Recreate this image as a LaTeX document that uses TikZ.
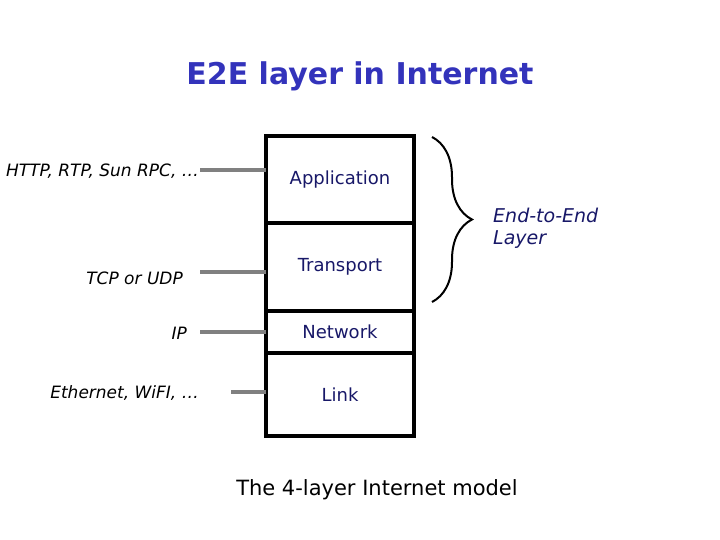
\documentclass[tikz,border=0pt]{standalone}
\usepackage{fontspec}
\usepackage{xcolor}
\usepackage{tikz}
\usetikzlibrary{decorations.pathreplacing}
\setmainfont{DejaVu Sans}
\definecolor{titleblue}{RGB}{51,51,187}
\definecolor{layernavy}{RGB}{24,24,104}
\definecolor{feedgray}{RGB}{128,128,128}
\tikzset{
	layer/.style={draw, line width=3.5pt, minimum width=148pt, inner sep=0pt, outer sep=0pt, anchor=north west, text=layernavy, font=\fontsize{18}{21}\selectfont},
	proto/.style={anchor=east, inner sep=0pt, font=\fontsize{17}{20}\selectfont\itshape},
	feed/.style={feedgray, line width=4pt}
}
\begin{document}
\begin{tikzpicture}[x=1pt, y=-1pt]
		\useasboundingbox (0,0) rectangle (720,540);
		% 标题
		\node[text=titleblue, font=\fontsize{30}{35}\selectfont\bfseries] (title) at (360,76) {E2E layer in Internet};
		% 四层方框
		\node[layer, minimum height=87pt] (app) at (266,136) {Application};
		\node[layer, minimum height=88pt] (trans) at (app.south west) {Transport};
		\node[layer, minimum height=42pt] (net) at (trans.south west) {Network};
		\node[layer, minimum height=83pt] (link) at (net.south west) {Link};
		% 左侧协议
		\node[proto] (http) at (199,171) {HTTP, RTP, Sun RPC, …};
		\node[proto] (tcp) at (183,278) {TCP or UDP};
		\node[proto] (ip) at (187,333) {IP};
		\node[proto] (eth) at (199,393) {Ethernet, WiFI, …};
		\coordinate (httpL) at (200,170);
		\coordinate (tcpL) at (200,272);
		\coordinate (ipL) at (200,332);
		\coordinate (ethL) at (231,392);
		\foreach \c/\n in {httpL/app, tcpL/trans, ipL/net, ethL/link} \draw[feed] (\c) -- (\c -| \n.west);
		% 花括号
		\coordinate (bTop) at (432,137);
		\coordinate (bBot) at (432,302);
		\draw[line width=2pt, decorate, decoration={brace, amplitude=40pt}] (bTop) -- (bBot);
		\node[anchor=west, align=left, inner sep=0pt, text=layernavy, font=\fontsize{19}{22}\selectfont\itshape] (e2e) at (493,228) {End-to-End\\Layer};
		% 说明
		\node[font=\fontsize{21}{25}\selectfont] (caption) at (377,490) {The 4-layer Internet model};
	\end{tikzpicture}
\end{document}
